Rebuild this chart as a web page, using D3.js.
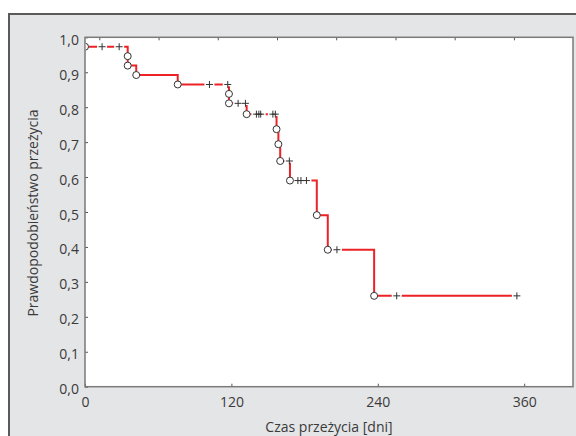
<!DOCTYPE html>
<html>
<head>
<meta charset="utf-8">
<script src="https://cdn.jsdelivr.net/npm/d3@7"></script>
<style>
  body { margin: 0; background: #fff; }
  svg { display: block; font-family: "Open Sans", sans-serif; }
</style>
</head>
<body>
<div id="chart"></div>
<script>
// Kaplan-Meier data
var deathTimes = [0, 35, 35, 42, 76, 118, 118, 132.5, 157, 158.5, 160, 168, 190, 199, 237];
var deathSurv = [0.973, 0.946, 0.919, 0.892, 0.865, 0.838, 0.811, 0.780, 0.737, 0.694, 0.646, 0.590, 0.491, 0.392, 0.260];
var censTimes = [14, 28, 102, 117, 125.5, 131.5, 140.5, 142.5, 144, 154, 156, 167.5, 174.5, 177, 181.5, 206.5, 255.5, 354];
var censSurv = [0.973, 0.973, 0.865, 0.865, 0.811, 0.811, 0.780, 0.780, 0.780, 0.780, 0.780, 0.646, 0.590, 0.590, 0.590, 0.392, 0.260, 0.260];
var lastTime = 354;

var xTicks = [0, 120, 240, 360];
var yTicks = [0, 0.1, 0.2, 0.3, 0.4, 0.5, 0.6, 0.7, 0.8, 0.9, 1.0];
var topTicks = [11.7, 60.3, 108.8, 157.4, 205.9, 254.5, 303, 351.6];

var width = 576, height = 436;
var plot = { left: 85, top: 37.3, right: 573, bottom: 386.7 };

var svg = d3.select("#chart").append("svg")
    .attr("width", width)
    .attr("height", height);

// outer grey panel
svg.append("rect")
    .attr("x", 9).attr("y", 14)
    .attr("width", 580).attr("height", 440)
    .attr("fill", "#e4e5e7")
    .attr("stroke", "#5a5a5a")
    .attr("stroke-width", 2);

svg.append("rect")
    .attr("x", plot.left).attr("y", plot.top)
    .attr("width", plot.right - plot.left).attr("height", plot.bottom - plot.top)
    .attr("fill", "#fff");

var x = d3.scaleLinear().domain([0, 400]).range([plot.left, plot.right]);
var y = d3.scaleLinear().domain([0, 1]).range([plot.bottom, plot.top]);

var fmt = function (d) { return d.toFixed(1).replace(".", ","); };

var yAxis = svg.append("g")
    .attr("transform", "translate(" + plot.left + ",0)")
    .call(d3.axisLeft(y).tickValues(yTicks).tickSize(-3).tickPadding(6).tickFormat(fmt));

var xAxis = svg.append("g")
    .attr("transform", "translate(0," + plot.bottom + ")")
    .call(d3.axisBottom(x).tickValues(xTicks).tickSize(-3).tickPadding(10));

var topAxis = svg.append("g")
    .attr("transform", "translate(0," + plot.top + ")")
    .call(d3.axisTop(x).tickValues(topTicks).tickSize(-3).tickFormat(""));

[yAxis, xAxis, topAxis].forEach(function (g) {
    g.select(".domain").remove();
    g.selectAll(".tick line").attr("stroke", "#555");
    g.selectAll(".tick text")
        .attr("fill", "#3a3a3a")
        .style("font-size", "14px")
        .style("font-family", "'Open Sans', sans-serif");
});
yAxis.selectAll(".tick text").attr("dy", "0.5em");

// plot frame
svg.append("rect")
    .attr("x", plot.left).attr("y", plot.top)
    .attr("width", plot.right - plot.left).attr("height", plot.bottom - plot.top)
    .attr("fill", "none")
    .attr("stroke", "#7a7a7a")
    .attr("stroke-width", 1.5);

svg.append("clipPath").attr("id", "clip")
    .append("rect")
    .attr("x", plot.left + 0.75).attr("y", plot.top)
    .attr("width", plot.right - plot.left).attr("height", plot.bottom - plot.top);

var g = svg.append("g").attr("clip-path", "url(#clip)");

// survival curve
var pts = deathTimes.map(function (t, i) { return [t, deathSurv[i]]; });
pts.push([lastTime, deathSurv[deathSurv.length - 1]]);

var line = d3.line()
    .x(function (d) { return x(d[0]); })
    .y(function (d) { return y(d[1]); })
    .curve(d3.curveStepAfter);

g.append("path")
    .datum(pts)
    .attr("d", line)
    .attr("fill", "none")
    .attr("stroke", "#ec2227")
    .attr("stroke-width", 2);

// censored marks
var cens = censTimes.map(function (t, i) { return { t: t, s: censSurv[i] }; });

g.selectAll(".gap").data(cens).enter().append("line")
    .attr("x1", function (d) { return x(d.t) - 5; })
    .attr("x2", function (d) { return x(d.t) + 5; })
    .attr("y1", function (d) { return y(d.s); })
    .attr("y2", function (d) { return y(d.s); })
    .attr("stroke", "#fff")
    .attr("stroke-width", 3.5);

var plus = g.selectAll(".cens").data(cens).enter().append("g")
    .attr("transform", function (d) { return "translate(" + x(d.t) + "," + y(d.s) + ")"; });
plus.append("line").attr("x1", -3.5).attr("x2", 3.5).attr("y1", 0).attr("y2", 0)
    .attr("stroke", "#333").attr("stroke-width", 1);
plus.append("line").attr("x1", 0).attr("x2", 0).attr("y1", -3.5).attr("y2", 3.5)
    .attr("stroke", "#333").attr("stroke-width", 1);

// death marks
g.selectAll(".death").data(pts.slice(0, deathTimes.length)).enter().append("circle")
    .attr("cx", function (d) { return x(d[0]); })
    .attr("cy", function (d) { return y(d[1]); })
    .attr("r", 3.5)
    .attr("fill", "#fff")
    .attr("stroke", "#333")
    .attr("stroke-width", 1);

// axis titles
svg.append("text")
    .attr("x", (plot.left + plot.right) / 2 + 0)
    .attr("y", 432)
    .attr("text-anchor", "middle")
    .attr("fill", "#3a3a3a")
    .style("font-size", "14px")
    .text("Czas przeżycia [dni]");

svg.append("text")
    .attr("transform", "translate(38," + ((plot.top + plot.bottom) / 2 + 1) + ") rotate(-90)")
    .attr("text-anchor", "middle")
    .attr("fill", "#3a3a3a")
    .style("font-size", "14px")
    .text("Prawdopodobieństwo przeżycia");
</script>
</body>
</html>
